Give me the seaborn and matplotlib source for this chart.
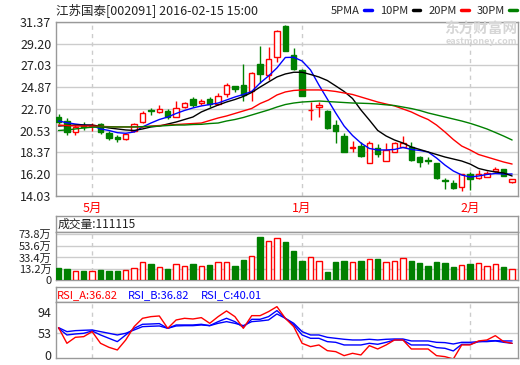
import matplotlib
matplotlib.use("Agg")
import matplotlib.pyplot as plt
from matplotlib.lines import Line2D
import numpy as np
import pandas as pd
import seaborn as sns

# ---- data (one entry per trading day) ----
open_ = [21.92, 21.54, 20.35, 21.02, 20.96, 21.19, 20.33, 19.85, 19.70, 20.50,
         21.36, 22.56, 22.42, 22.52, 21.92, 22.86, 23.65, 23.25, 23.65, 23.15,
         24.15, 24.97, 25.07, 24.45, 27.13, 26.07, 27.89, 30.95, 28.06, 26.57,
         22.54, 22.86, 22.46, 21.09, 20.00, 18.78, 19.01, 17.34, 18.78, 17.54,
         18.44, 18.94, 18.88, 17.94, 17.66, 17.28, 15.59, 15.35, 14.96, 16.19,
         15.79, 15.95, 16.49, 16.72, 15.39]
close = [21.36, 20.43, 20.85, 20.93, 21.06, 20.40, 19.77, 19.70, 20.17, 21.16,
         22.26, 22.49, 22.69, 21.86, 22.76, 23.25, 23.08, 23.48, 23.18, 23.98,
         25.07, 24.68, 24.03, 26.24, 26.17, 27.66, 30.45, 28.49, 26.67, 24.01,
         22.61, 23.08, 20.77, 20.53, 18.44, 18.91, 18.01, 19.27, 18.18, 18.61,
         19.27, 19.27, 17.61, 17.44, 17.56, 15.79, 15.52, 14.86, 16.19, 15.72,
         16.19, 16.35, 16.75, 16.02, 15.72]
high = [22.19, 21.79, 21.10, 21.39, 21.32, 21.32, 20.50, 20.10, 20.30, 21.32,
        22.49, 22.82, 23.08, 22.69, 23.48, 23.38, 23.85, 23.65, 23.85, 24.25,
        25.24, 25.02, 27.18, 26.37, 28.96, 28.83, 30.55, 31.04, 28.73, 26.67,
        23.35, 23.41, 22.59, 21.59, 20.30, 19.50, 19.43, 19.53, 19.20, 19.27,
        19.40, 20.00, 19.37, 18.01, 17.94, 17.31, 15.79, 15.62, 16.22, 16.45,
        16.62, 16.52, 16.92, 16.75, 15.75]
low = [21.19, 20.10, 20.10, 20.60, 20.53, 20.20, 19.60, 19.43, 19.60, 20.40,
       21.29, 22.09, 22.26, 21.66, 21.89, 22.79, 22.92, 23.08, 22.92, 23.08,
       23.91, 24.33, 23.53, 23.50, 25.24, 25.57, 27.39, 28.46, 26.57, 23.98,
       21.59, 21.92, 20.70, 19.33, 18.41, 18.41, 17.91, 17.28, 17.94, 17.51,
       18.41, 18.91, 17.56, 16.95, 17.21, 15.75, 14.70, 14.70, 14.56, 14.63,
       15.75, 15.92, 16.42, 15.99, 15.29]
volume = [16.0, 14.3, 10.4, 10.4, 10.4, 12.1, 10.4, 10.4, 12.1, 15.5,
          25.2, 22.3, 16.6, 13.8, 21.7, 18.3, 22.3, 18.3, 20.6, 25.2,
          25.2, 18.9, 29.1, 35.4, 68.4, 61.6, 66.1, 59.9, 44.5, 27.4,
          33.7, 27.4, 8.6, 25.7, 27.4, 25.2, 27.4, 30.8, 31.4, 25.2,
          27.4, 32.0, 27.4, 24.0, 18.9, 25.7, 24.0, 17.2, 20.0, 22.3,
          23.4, 18.3, 21.7, 17.2, 13.8]  # 万

ma5 = [21.49, 21.32, 21.19, 21.09, 21.04, 20.70, 20.55, 20.33, 20.27, 20.40,
       20.90, 21.29, 21.64, 21.89, 22.24, 22.54, 22.79, 22.99, 23.13, 23.28,
       23.58, 23.88, 24.13, 24.43, 25.27, 25.97, 26.77, 27.81, 27.83, 27.46,
       26.57, 25.07, 23.68, 22.29, 20.99, 20.05, 19.30, 18.76, 18.61, 18.61,
       18.66, 18.86, 18.66, 18.56, 18.41, 17.81, 17.11, 16.52, 16.12, 15.92,
       16.02, 16.17, 16.27, 16.22, 16.22]
ma10 = [20.99, 21.04, 21.09, 21.09, 21.09, 20.95, 20.80, 20.70, 20.60, 20.55,
        20.70, 20.90, 20.99, 21.19, 21.39, 21.64, 21.89, 22.39, 22.74, 23.08,
        23.38, 23.63, 23.93, 24.33, 24.87, 25.37, 25.87, 26.17, 26.34, 26.34,
        26.12, 25.87, 25.52, 24.98, 24.43, 23.73, 22.59, 21.59, 20.55, 20.00,
        19.60, 19.30, 18.91, 18.66, 18.41, 18.16, 17.91, 17.71, 17.51, 17.21,
        16.77, 16.57, 16.42, 16.32, 16.02]
ma20 = [21.09, 21.04, 20.99, 20.99, 20.99, 20.95, 20.93, 20.90, 20.90, 20.90,
        20.90, 20.99, 21.04, 21.09, 21.14, 21.19, 21.24, 21.29, 21.54, 21.79,
        21.99, 22.24, 22.49, 22.74, 23.23, 23.58, 24.08, 24.38, 24.53, 24.58,
        24.58, 24.58, 24.53, 24.43, 24.28, 24.13, 23.88, 23.63, 23.38, 23.18,
        22.99, 22.69, 22.39, 21.99, 21.64, 21.09, 20.40, 19.65, 19.00, 18.61,
        18.16, 17.91, 17.66, 17.41, 17.21]
ma30 = [20.55, 20.60, 20.70, 20.80, 20.87, 20.90, 20.90, 20.90, 20.90, 20.90,
        20.93, 20.95, 20.99, 21.04, 21.09, 21.09, 21.14, 21.16, 21.24, 21.29,
        21.49, 21.64, 21.84, 22.09, 22.34, 22.59, 22.88, 23.13, 23.28, 23.38,
        23.43, 23.48, 23.43, 23.38, 23.33, 23.28, 23.26, 23.23, 23.18, 23.10,
        23.03, 22.88, 22.73, 22.54, 22.29, 22.09, 21.89, 21.69, 21.49, 21.26,
        20.99, 20.70, 20.35, 19.99, 19.60]

rsi_a = [62.2, 36.8, 46.5, 47.6, 55.7, 36.8, 30.3, 26.0, 42.2, 63.8,
         77.3, 80.0, 81.1, 61.1, 74.6, 77.3, 76.2, 78.4, 69.2, 80.0,
         89.2, 80.0, 61.1, 81.6, 81.6, 88.1, 96.2, 77.3, 63.8, 36.8,
         31.4, 34.1, 24.9, 23.3, 16.8, 20.6, 17.9, 33.0, 27.6, 34.1,
         42.2, 42.2, 27.6, 27.6, 27.6, 16.8, 15.2, 11.4, 34.1, 34.1,
         40.6, 42.2, 49.2, 39.5, 36.8]
rsi_b = [61.1, 50.3, 51.9, 53.0, 56.8, 50.3, 44.9, 39.5, 50.3, 61.1,
         67.6, 68.1, 68.7, 61.1, 66.5, 66.5, 66.5, 67.6, 65.4, 71.9,
         77.3, 71.9, 62.7, 75.7, 75.7, 80.0, 89.8, 77.3, 66.5, 50.3,
         44.9, 44.9, 39.5, 38.4, 34.1, 34.1, 34.1, 36.8, 35.2, 38.4,
         42.2, 42.2, 34.1, 34.1, 34.1, 29.8, 28.7, 24.4, 35.2, 35.2,
         39.5, 39.5, 40.6, 38.4, 36.8]
rsi_c = [62.2, 55.7, 57.3, 57.9, 58.4, 55.7, 53.0, 50.3, 53.0, 58.4,
         63.8, 64.4, 64.9, 61.1, 64.9, 65.4, 65.4, 66.5, 65.4, 69.2,
         71.9, 69.2, 65.4, 71.9, 73.0, 74.6, 84.4, 77.3, 69.2, 55.7,
         50.3, 50.3, 46.5, 44.9, 43.3, 42.2, 42.2, 43.3, 42.2, 43.3,
         43.8, 43.8, 40.6, 40.6, 40.6, 38.4, 37.9, 35.7, 38.4, 38.4,
         39.5, 40.6, 41.1, 40.6, 40.6]

month_pos = [4, 29, 49]
month_labels = ["5月", "1月", "2月"]
price_ticks = [14.03, 16.20, 18.37, 20.53, 22.70, 24.87, 27.03, 29.20, 31.37]
vol_floor = -5.1  # the volume axis starts a little below zero
vol_ticks = [vol_floor, 13.2, 33.4, 53.6, 73.8]
vol_tick_labels = ["0", "13.2万", "33.4万", "53.6万", "73.8万"]
rsi_tick_pos = [17.8, 53, 88]
rsi_tick_labels = ["0", "53", "94"]

title = "江苏国泰[002091] 2016-02-15 15:00"
vol_title = "成交量:111115"
rsi_titles = ["RSI_A:36.82", "RSI_B:36.82", "RSI_C:40.01"]
ma_names = ["5PMA", "10PM", "20PM", "30PM"]

RED = "#ff0000"
GREEN = "#008000"
BLUE = "#0000ff"
FRAME = "#999999"
GRID = "#cccccc"
TXT = "#222222"

sns.set_style("white")
plt.rcParams["font.family"] = ["Noto Sans CJK SC", "DejaVu Sans"]

W, H = 520, 365
fig = plt.figure(figsize=(W / 100, H / 100), dpi=100)


def px_axes(left, top, right, bottom):
    return fig.add_axes([left / W, 1 - bottom / H, (right - left) / W, (bottom - top) / H])


n = len(close)
idx = np.arange(n)
df = pd.DataFrame({"idx": idx, "open": open_, "close": close,
                   "high": high, "low": low, "volume": volume})
up = df["close"] >= df["open"]
colors = np.where(up, RED, GREEN)
faces = np.where(up, "white", GREEN)
xlim = (-0.36, n - 1 + 0.7)


def frame(ax):
    for s in ax.spines.values():
        s.set_visible(True)
        s.set_color(FRAME)
        s.set_linewidth(1)


# ---- price panel ----
ax = px_axes(55.5, 21.7, 518, 196)
ax.vlines(df["idx"], df["low"], df["high"], colors=colors, lw=1, zorder=2)
body_bot = np.minimum(df["open"], df["close"])
body_h = np.maximum((df["close"] - df["open"]).abs(), 0.04)
ax.bar(df["idx"], body_h, bottom=body_bot, width=0.66, color=faces,
       edgecolor=colors, linewidth=1, zorder=3)

ma_df = pd.DataFrame({"idx": idx, ma_names[0]: ma5, ma_names[1]: ma10,
                      ma_names[2]: ma20, ma_names[3]: ma30})
ma_long = ma_df.melt(id_vars="idx", var_name="ma", value_name="price")
ma_colors = dict(zip(ma_names, [BLUE, "black", RED, GREEN]))
sns.lineplot(data=ma_long, x="idx", y="price", hue="ma", palette=ma_colors,
             linewidth=1, legend=False, ax=ax, zorder=4)

ax.set_xlim(*xlim)
ax.set_ylim(price_ticks[0], price_ticks[-1])
ax.set_yticks(price_ticks, [f"{v:.2f}" for v in price_ticks])
ax.set_xticks(month_pos, month_labels)
ax.tick_params(axis="both", length=0, labelsize=9, labelcolor=TXT, pad=3)
ax.tick_params(axis="x", labelcolor=RED, pad=4)
ax.grid(axis="y", color=GRID, lw=1)
ax.grid(axis="x", color=GRID, lw=1, ls=(0, (3, 3)))
ax.set_xlabel("")
ax.set_ylabel("")
frame(ax)

handles = [Line2D([], [], color=ma_colors[m], lw=2.5) for m in ma_names]
leg = fig.legend(handles, ma_names, loc="center right",
                 bbox_to_anchor=(517 / W, 1 - 10.5 / H), ncol=4,
                 markerfirst=False, frameon=False, fontsize=8,
                 handlelength=0.7, handletextpad=0.4, columnspacing=0.7,
                 borderpad=0, borderaxespad=0)
fig.text(56 / W, 1 - 10.5 / H, title, fontsize=9, color=TXT,
         ha="left", va="center")

# watermark
fig.text(517 / W, 1 - 29 / H, "东方财富网", fontsize=10.5, color="#d6d6d6",
         fontweight="bold", ha="right", va="center", zorder=0)
fig.text(517 / W, 1 - 41 / H, "eastmoney.com", fontsize=6.5, color="#d6d6d6",
         fontweight="bold", ha="right", va="center", zorder=0)

# ---- volume panel ----
axh = px_axes(55.5, 216, 518, 232.3)
axh.set_xticks([])
axh.set_yticks([])
frame(axh)
axh.text(0.004, 0.5, vol_title, transform=axh.transAxes, fontsize=8.5,
         color=TXT, ha="left", va="center")

axv = px_axes(55.5, 232.3, 518, 280)
axv.bar(df["idx"], df["volume"] - vol_floor, bottom=vol_floor, width=0.66,
        color=faces, edgecolor=colors, linewidth=1, zorder=3)
axv.set_xlim(*xlim)
axv.set_ylim(vol_floor, 76.3)
axv.set_yticks(vol_ticks, vol_tick_labels)
axv.set_xticks(month_pos, [""] * len(month_pos))
axv.tick_params(axis="both", length=0, labelsize=8, labelcolor=TXT, pad=3)
axv.grid(axis="y", color=GRID, lw=1)
axv.grid(axis="x", color=GRID, lw=1, ls=(0, (3, 3)))
frame(axv)

# ---- RSI panel ----
axrh = px_axes(55.5, 286.7, 518, 301.7)
axrh.set_xticks([])
axrh.set_yticks([])
frame(axrh)
for label, x0, c in zip(rsi_titles, [57, 128, 201], [RED, BLUE, BLUE]):
    axrh.text((x0 - 55.5) / (518 - 55.5), 0.45, label, transform=axrh.transAxes,
              fontsize=8, color=c, ha="left", va="center")

axr = px_axes(55.5, 301.7, 518, 358.3)
rsi_df = pd.DataFrame({"idx": idx, "A": rsi_a, "B": rsi_b, "C": rsi_c})
rsi_long = rsi_df.melt(id_vars="idx", var_name="line", value_name="rsi")
sns.lineplot(data=rsi_long, x="idx", y="rsi", hue="line",
             palette={"A": RED, "B": BLUE, "C": BLUE}, hue_order=["C", "B", "A"],
             linewidth=1, legend=False, ax=axr, zorder=3)
axr.axhline(53, color=GRID, lw=1, zorder=1)
axr.set_xlim(*xlim)
axr.set_ylim(12.5, 104.2)
axr.set_yticks(rsi_tick_pos, rsi_tick_labels)
axr.set_xticks(month_pos, [""] * len(month_pos))
axr.tick_params(axis="both", length=0, labelsize=9, labelcolor=TXT, pad=3)
axr.grid(axis="x", color=GRID, lw=1, ls=(0, (3, 3)))
axr.set_xlabel("")
axr.set_ylabel("")
frame(axr)

fig.savefig("out.png", dpi=100, facecolor="white")
